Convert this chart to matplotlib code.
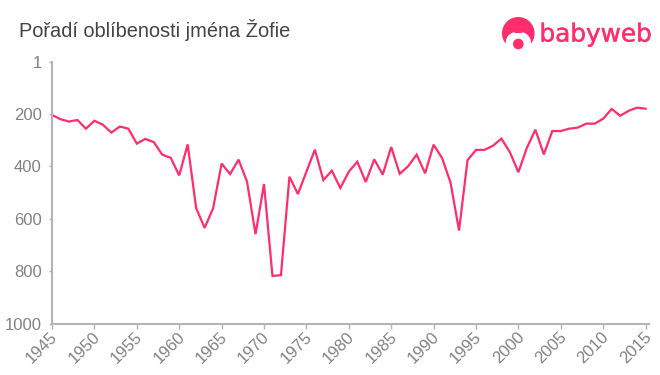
import matplotlib
matplotlib.use("Agg")
import matplotlib.pyplot as plt
from matplotlib.patches import Circle, Ellipse, Rectangle, Polygon
from matplotlib.transforms import ScaledTranslation
import matplotlib.patheffects as pe

years = list(range(1945, 2016))
ranks = [204, 220, 229, 223, 256, 226, 241, 271, 248, 256,
         313, 295, 307, 355, 367, 434, 316, 559, 634, 559,
         389, 429, 374, 458, 658, 467, 817, 814, 439, 505,
         420, 336, 452, 416, 482, 420, 382, 459, 373, 431,
         326, 428, 399, 355, 426, 317, 368, 462, 644, 376,
         337, 337, 321, 294, 346, 422, 329, 260, 354, 265,
         265, 256, 252, 237, 237, 218, 181, 207, 188, 176, 180]
x_ticks = list(range(1945, 2016, 5))
y_ticks = [1, 200, 400, 600, 800, 1000]
title = "Pořadí oblíbenosti jména Žofie"
brand = "babyweb"

PINK = "#ff2d6c"
GREY = "#b4b4b4"
TICK = "#828282"
W, H = 660, 375

plt.rcParams["font.family"] = ["Liberation Sans", "DejaVu Sans"]
fig = plt.figure(figsize=(W / 100, H / 100), dpi=100, facecolor="white")
ax = fig.add_axes([52 / W, 1 - 324 / H, (649 - 52) / W, (324 - 61.7) / H])
ax.plot(years, ranks, color=PINK, lw=1.6, solid_joinstyle="miter", clip_on=False)
ax.set_xlim(1945, 1945 + (649 - 52) / 8.48)
ax.set_ylim(1000, 1)
ax.set_xticks(x_ticks)
ax.set_yticks(y_ticks)
for s in ("top", "right"):
    ax.spines[s].set_visible(False)
for s in ("left", "bottom"):
    ax.spines[s].set_color(GREY)
    ax.spines[s].set_linewidth(1.5)
ax.tick_params(axis="both", color=GREY, width=1, labelcolor=TICK, labelsize=12)
ax.tick_params(axis="x", length=3.5, pad=1)
ax.tick_params(axis="y", length=2.5, pad=5)
offset = ScaledTranslation(-2 / 100, 1 / 100, fig.dpi_scale_trans)
for lab in ax.get_xticklabels():
    lab.set_rotation(45)
    lab.set_ha("right")
    lab.set_va("top")
    lab.set_rotation_mode("anchor")
    lab.set_transform(lab.get_transform() + offset)

fig.text(19 / W, 1 - 30 / H, title, fontsize=14.4, color="#444444", va="center", ha="left")

ov = fig.add_axes([0, 0, 1, 1], facecolor="none")
ov.set_xlim(0, W)
ov.set_ylim(H, 0)
ov.axis("off")
ov.add_patch(Circle((518.3, 33.3), 16.3, color=PINK, lw=0))
ov.add_patch(Rectangle((500, 42.5), 37, 10, color="white", lw=0))
ov.add_patch(Ellipse((518.3, 42), 25, 21, color="white", lw=0))
ov.add_patch(Polygon([(514, 33), (518.3, 29), (522.6, 33)], color=PINK, lw=0))
ov.add_patch(Circle((518.3, 44), 5.3, color=PINK, lw=0))
ov.text(539.5, 41.5, brand, fontsize=17.8, color=PINK, family="DejaVu Sans", va="baseline", ha="left",
        path_effects=[pe.withStroke(linewidth=0.3, foreground=PINK)])

fig.savefig("out.png", dpi=100)
